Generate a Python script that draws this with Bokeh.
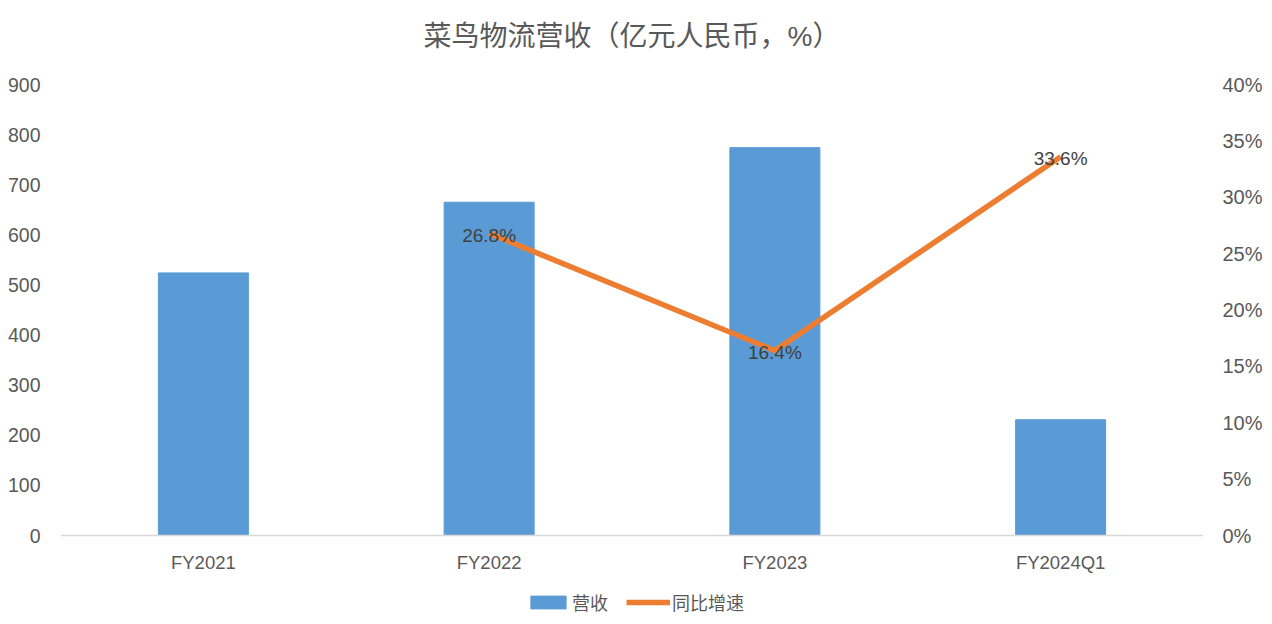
from bokeh.plotting import figure
from bokeh.models import (Range1d, LinearAxis, FixedTicker, NumeralTickFormatter,
                          Legend, LegendItem, ColumnDataSource, Span, Label)
from bokeh.core.properties import value
from bokeh.embed import file_html
from bokeh.resources import INLINE

# ---- data ----
categories = ["FY2021", "FY2022", "FY2023", "FY2024Q1"]
revenue = [524, 665, 774, 231]
growth_categories = ["FY2022", "FY2023", "FY2024Q1"]
growth = [0.268, 0.164, 0.336]
growth_labels = ["26.8%", "16.4%", "33.6%"]
left_ticks = [0, 100, 200, 300, 400, 500, 600, 700, 800, 900]
right_ticks = [0, 0.05, 0.10, 0.15, 0.20, 0.25, 0.30, 0.35, 0.40]
title_text = "菜鸟物流营收（亿元人民币，%）"

FONT = "'Liberation Sans', 'Noto Sans CJK SC', sans-serif"
GRAY = "#595959"
BLUE = "#5B9BD5"
ORANGE = "#ED7D31"

# ---- layout (pixels) ----
W, H = 1272, 624
LEFT, RIGHT = 60, 69
PLOT_TOP, PLOT_ZERO = 84, 535          # pixel rows of the 900 / 0 ticks
ppu_left = (PLOT_ZERO - PLOT_TOP) / 900.0
ppu_right = (PLOT_ZERO - PLOT_TOP) / 0.40

y_left = Range1d(-(H - PLOT_ZERO) / ppu_left, 900 + PLOT_TOP / ppu_left)
y_right = Range1d(-(H - PLOT_ZERO) / ppu_right, 0.40 + PLOT_TOP / ppu_right)

p = figure(frame_width=W - LEFT - RIGHT, frame_height=H, x_range=categories, y_range=y_left,
           output_backend="svg", toolbar_location=None, title=None,
           x_axis_location=None,
           min_border_left=LEFT, min_border_right=RIGHT, min_border_top=0, min_border_bottom=0)
p.extra_y_ranges = {"pct": y_right}

p.outline_line_color = None
p.xgrid.grid_line_color = None
p.ygrid.grid_line_color = None
p.background_fill_color = "white"

# baseline (category axis line)
p.add_layout(Span(location=0, dimension="width", line_color="#d9d9d9", line_width=1.5))

# bars
bar_src = ColumnDataSource(dict(cat=categories, rev=revenue, zero=[0] * len(categories)))
bars = p.vbar(x="cat", top="rev", width=0.315, source=bar_src, color=BLUE)

# category labels
p.text(x="cat", y="zero", text="cat", source=bar_src, text_align="center",
       text_baseline="middle", y_offset=27, text_font=value(FONT),
       text_font_size="18.5px", text_color=GRAY)

# line
line_src = ColumnDataSource(dict(cat=growth_categories, g=growth, lab=growth_labels))
ln = p.line(x="cat", y="g", source=line_src, y_range_name="pct", line_color=ORANGE,
            line_width=5.5)
p.text(x="cat", y="g", text="lab", source=line_src, y_range_name="pct",
       text_align="center", text_baseline="middle", y_offset=2,
       text_font=value(FONT), text_font_size="19px", text_color="#404040")

# left axis
ya = p.yaxis[0]
ya.ticker = FixedTicker(ticks=left_ticks)
ya.axis_line_color = None
ya.major_tick_line_color = None
ya.minor_tick_line_color = None
ya.major_tick_out = 0
ya.major_tick_in = 0
ya.major_label_text_font = FONT
ya.major_label_text_font_size = "19.5px"
ya.major_label_text_color = GRAY
ya.major_label_standoff = 20

# right axis
ra = LinearAxis(y_range_name="pct", ticker=FixedTicker(ticks=right_ticks),
                formatter=NumeralTickFormatter(format="0%"))
ra.axis_line_color = None
ra.major_tick_line_color = None
ra.minor_tick_line_color = None
ra.major_tick_out = 0
ra.major_tick_in = 0
ra.major_label_text_font = FONT
ra.major_label_text_font_size = "20px"
ra.major_label_text_color = GRAY
ra.major_label_standoff = 19
p.add_layout(ra, "right")

# title (screen units, relative to the frame's bottom-left)
p.add_layout(Label(x=571.5, y=H - 36, x_units="screen", y_units="screen", text=title_text,
                   text_align="center", text_baseline="middle", text_font=FONT,
                   text_font_size="28px", text_color=GRAY))

# legend
legend = Legend(items=[LegendItem(label="营收", renderers=[bars]),
                       LegendItem(label="同比增速", renderers=[ln])],
                orientation="horizontal", location=(466, 9),
                label_text_font=FONT, label_text_font_size="18px", label_text_color=GRAY,
                glyph_width=44, glyph_height=16, label_height=22, label_standoff=2,
                spacing=18, padding=0, margin=0, border_line_color=None,
                background_fill_alpha=0)
p.add_layout(legend, "center")

open("out.html", "w").write(file_html(p, INLINE))
